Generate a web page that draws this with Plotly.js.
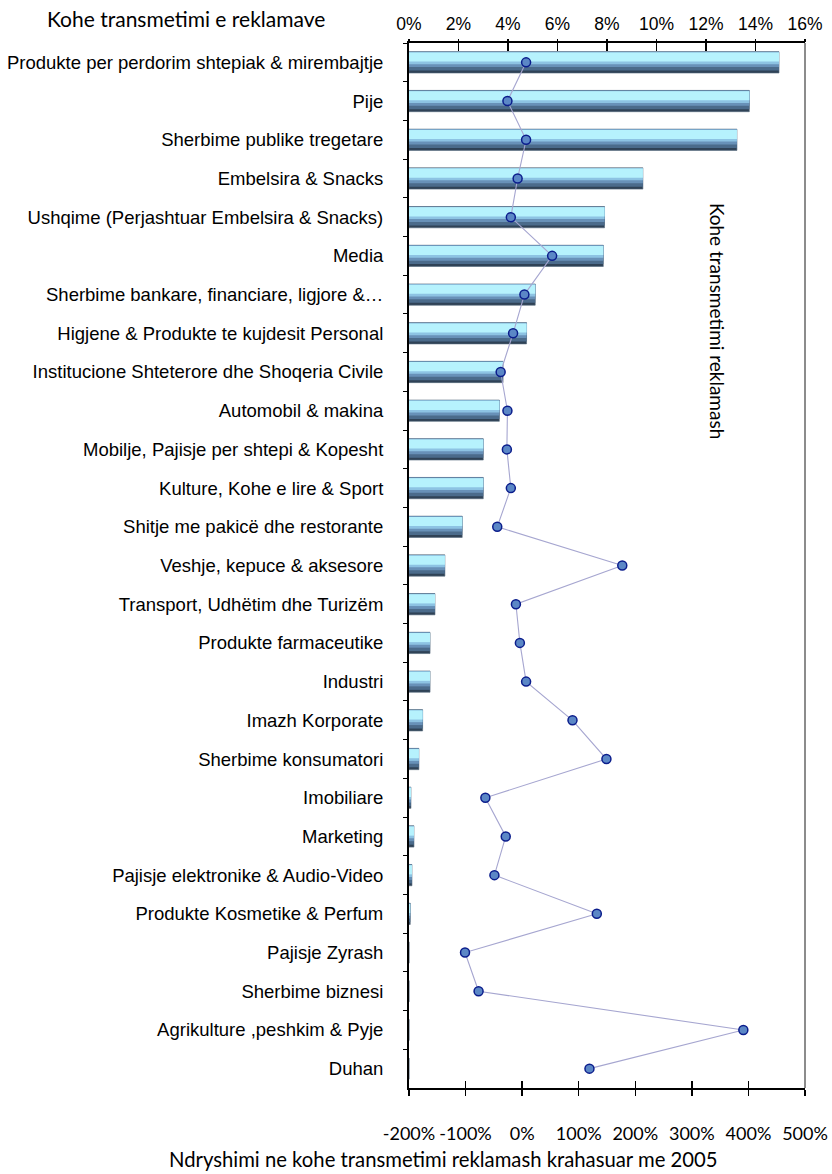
<!DOCTYPE html>
<html>
<head>
<meta charset="utf-8">
<script src="https://cdn.plot.ly/plotly-3.0.1.min.js"></script>
<style>html,body{margin:0;padding:0;background:#fff;}#chart{width:832px;height:1174px;}</style>
</head>
<body>
<div id="chart"></div>
<script>
var categories = [
  "Produkte per perdorim shtepiak & mirembajtje",
  "Pije",
  "Sherbime publike tregetare",
  "Embelsira & Snacks",
  "Ushqime (Perjashtuar Embelsira & Snacks)",
  "Media",
  "Sherbime bankare, financiare, ligjore &…",
  "Higjene & Produkte te kujdesit Personal",
  "Institucione Shteterore dhe Shoqeria Civile",
  "Automobil & makina",
  "Mobilje, Pajisje per shtepi & Kopesht",
  "Kulture, Kohe e lire & Sport",
  "Shitje me pakicë dhe restorante",
  "Veshje, kepuce & aksesore",
  "Transport, Udhëtim dhe Turizëm",
  "Produkte farmaceutike",
  "Industri",
  "Imazh Korporate",
  "Sherbime konsumatori",
  "Imobiliare",
  "Marketing",
  "Pajisje elektronike & Audio-Video",
  "Produkte Kosmetike & Perfum",
  "Pajisje Zyrash",
  "Sherbime biznesi",
  "Agrikulture ,peshkim & Pyje",
  "Duhan"
];
var airtimeShare = [14.95, 13.75, 13.25, 9.45, 7.9, 7.85, 5.1, 4.75, 3.8, 3.65, 3.0, 3.0, 2.15,
  1.45, 1.05, 0.85, 0.85, 0.55, 0.4, 0.08, 0.2, 0.12, 0.05, 0, 0, 0, 0];
var changeVs2005 = [7, -26, 7, -8, -20, 53, 4, -16, -38, -26, -27, -20, -44,
  177, -11, -4, 7, 89, 149, -65, -29, -49, 132, -101, -77, 391, 119];
var topTickVals = [0, 2, 4, 6, 8, 10, 12, 14, 16];
var topTickText = ["0%", "2%", "4%", "6%", "8%", "10%", "12%", "14%", "16%"];
var bottomTickVals = [-200, -100, 0, 100, 200, 300, 400, 500];
var bottomTickText = ["-200%", "-100%", "0%", "100%", "200%", "300%", "400%", "500%"];

var barLayers = [
  {offset: -0.275, width: 0.55, color: "#2f4256", line: "#56697c"},
  {offset: -0.272, width: 0.485, color: "#4b6b8b", line: "rgba(0,0,0,0)"},
  {offset: -0.272, width: 0.395, color: "#6891b8", line: "rgba(0,0,0,0)"},
  {offset: -0.262, width: 0.31, color: "#8dc3e3", line: "rgba(0,0,0,0)"},
  {offset: -0.255, width: 0.235, color: "#b6f2fd", line: "rgba(0,0,0,0)"}
];
var traces = barLayers.map(function (L) {
  return {
    type: "bar", orientation: "h",
    x: airtimeShare, y: categories,
    xaxis: "x", yaxis: "y",
    offset: L.offset, width: L.width,
    marker: {color: L.color, line: {color: L.line, width: 0.6}},
    hoverinfo: "skip"
  };
});
traces.push({
  type: "scatter", mode: "lines+markers",
  x: changeVs2005, y: categories,
  xaxis: "x2", yaxis: "y",
  line: {color: "#a6a6d0", width: 1.1},
  marker: {size: 9, color: "#5b87c6", line: {color: "#0b1d8c", width: 1.5}},
  hoverinfo: "skip"
});
traces.push({type: "scatter", x: [], y: [], xaxis: "x3", yaxis: "y", hoverinfo: "skip"});
traces.push({type: "scatter", x: [], y: [], xaxis: "x4", yaxis: "y", hoverinfo: "skip"});

var layout = {
  width: 832, height: 1174,
  margin: {l: 409, r: 27, t: 43, b: 86},
  paper_bgcolor: "#ffffff", plot_bgcolor: "#ffffff",
  showlegend: false, barmode: "overlay",
  xaxis: {
    side: "top", range: [0, 16], tickvals: topTickVals, ticktext: topTickText,
    ticks: "inside", ticklen: 8, tickwidth: 1.5, tickcolor: "#000",
    showline: true, linecolor: "#000", linewidth: 2,
    showgrid: false, zeroline: false, ticklabelstandoff: 4,
    tickfont: {family: "Liberation Sans, Arial, sans-serif", size: 17.5, color: "#000"}
  },
  xaxis3: {
    overlaying: "x", side: "top", anchor: "y", range: [0, 16], tickvals: topTickVals,
    ticks: "outside", ticklen: 3, tickwidth: 1.5, tickcolor: "#000",
    showticklabels: false, showline: false, showgrid: false, zeroline: false
  },
  xaxis2: {
    overlaying: "x", side: "bottom", anchor: "y", range: [-200, 500],
    tickvals: bottomTickVals, ticktext: bottomTickText,
    ticks: "outside", ticklen: 6, tickwidth: 1.5, tickcolor: "#000",
    showline: true, linecolor: "#000", linewidth: 2,
    showgrid: false, zeroline: false, ticklabelstandoff: 22,
    tickfont: {family: "Lato, sans-serif", size: 18, color: "#000"}
  },
  xaxis4: {
    overlaying: "x", side: "bottom", anchor: "y", range: [-200, 500], tickvals: bottomTickVals,
    ticks: "inside", ticklen: 7, tickwidth: 1.5, tickcolor: "#000",
    showticklabels: false, showline: false, showgrid: false, zeroline: false
  },
  yaxis: {
    type: "category", categoryorder: "array", categoryarray: categories,
    range: [26.5, -0.5],
    showline: true, linecolor: "#000", linewidth: 2,
    ticks: "outside", tickson: "boundaries", ticklen: 4, tickwidth: 1, tickcolor: "#000",
    showgrid: false, zeroline: false, ticklabelstandoff: 20,
    tickfont: {family: "Liberation Sans, Arial, sans-serif", size: 18.5, color: "#000"}
  },
  shapes: [
    {type: "line", xref: "paper", yref: "paper", x0: 1, x1: 1, y0: 0, y1: 1,
     line: {color: "#8c8c8c", width: 2}}
  ],
  annotations: [
    {text: "Kohe transmetimi e reklamave", xref: "paper", yref: "paper",
     x: -0.562, y: 1.023, xanchor: "center", yanchor: "middle", showarrow: false,
     font: {family: "Lato, sans-serif", size: 21, color: "#000"}},
    {text: "Ndryshimi ne kohe transmetimi reklamash krahasuar me 2005", xref: "paper", yref: "paper",
     x: 0.086, y: -0.068, xanchor: "center", yanchor: "middle", showarrow: false,
     font: {family: "Lato, sans-serif", size: 20.3, color: "#000"}},
    {text: "Kohe transmetimi reklamash", xref: "paper", yref: "paper",
     x: 0.778, y: 0.734, xanchor: "center", yanchor: "middle", showarrow: false, textangle: 90,
     font: {family: "Lato, sans-serif", size: 19, color: "#000"}}
  ]
};
Plotly.newPlot("chart", traces, layout, {staticPlot: true, displayModeBar: false});
</script>
</body>
</html>
